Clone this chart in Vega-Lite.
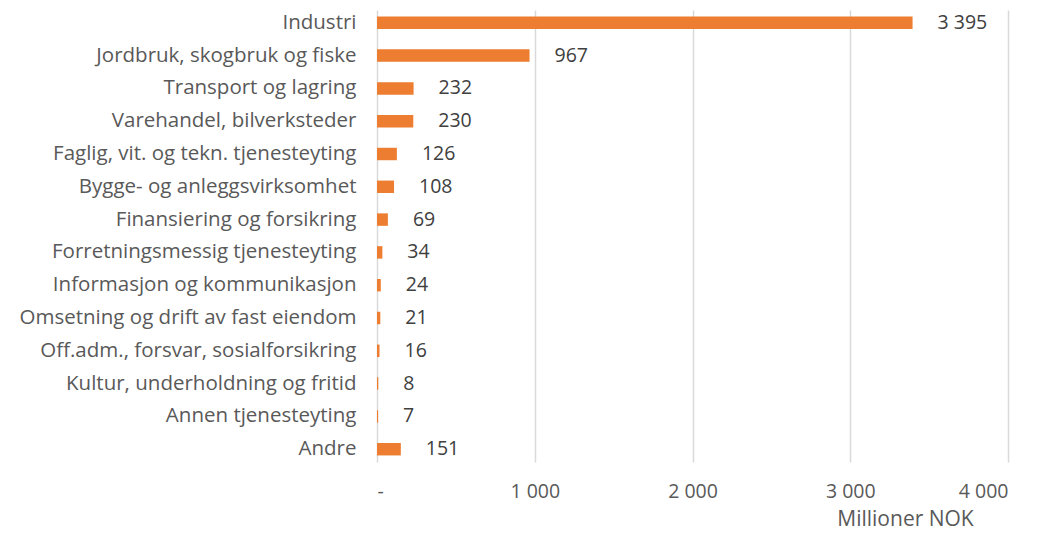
{
  "$schema": "https://vega.github.io/schema/vega-lite/v6.json",
  "autosize": "none",
  "width": 631,
  "height": 452,
  "padding": {"left": 377, "top": 10, "right": 35, "bottom": 71},
  "background": "white",
  "config": {
    "view": {"stroke": null},
    "font": "Open Sans",
    "locale": {"number": {"decimal": ",", "thousands": " ", "grouping": [3], "currency": ["", " kr"]}}
  },
  "data": {"values": [
    {"naering": "Industri", "verdi": 3395},
    {"naering": "Jordbruk, skogbruk og fiske", "verdi": 967},
    {"naering": "Transport og lagring", "verdi": 232},
    {"naering": "Varehandel, bilverksteder", "verdi": 230},
    {"naering": "Faglig, vit. og tekn. tjenesteyting", "verdi": 126},
    {"naering": "Bygge- og anleggsvirksomhet", "verdi": 108},
    {"naering": "Finansiering og forsikring", "verdi": 69},
    {"naering": "Forretningsmessig tjenesteyting", "verdi": 34},
    {"naering": "Informasjon og kommunikasjon", "verdi": 24},
    {"naering": "Omsetning og drift av fast eiendom", "verdi": 21},
    {"naering": "Off.adm., forsvar, sosialforsikring", "verdi": 16},
    {"naering": "Kultur, underholdning og fritid", "verdi": 8},
    {"naering": "Annen tjenesteyting", "verdi": 7},
    {"naering": "Andre", "verdi": 151}
  ]},
  "encoding": {
    "y": {
      "field": "naering", "type": "nominal", "sort": null,
      "scale": {"paddingInner": 0.62, "paddingOuter": 0.2},
      "axis": {"title": null, "domain": false, "ticks": false, "labelPadding": 21, "labelFontSize": 20.5, "labelColor": "#595959", "labelLimit": 400}
    },
    "x": {
      "field": "verdi", "type": "quantitative",
      "scale": {"domain": [0, 4000], "nice": false},
      "axis": {
        "title": "Millioner NOK", "titleFontSize": 21, "titleFontWeight": "normal", "titleColor": "#595959",
        "titleX": 528, "titleY": 67, "titleAlign": "center", "titleBaseline": "bottom",
        "values": [0, 1000, 2000, 3000, 4000], "labelOverlap": false,
        "domain": false, "ticks": false, "grid": true, "gridColor": "#d9d9d9", "gridWidth": 1.5,
        "labelFontSize": 19.5, "labelColor": "#595959", "labelPadding": 20,
        "labelExpr": "datum.value == 0 ? '-' : datum.label"
      }
    }
  },
  "layer": [
    {"mark": {"type": "bar", "color": "#ED7D31"}},
    {"mark": {"type": "text", "align": "left", "dx": 25, "fontSize": 19.5, "color": "#404040"},
     "encoding": {"text": {"field": "verdi", "type": "quantitative", "format": ",d"}}}
  ]
}
